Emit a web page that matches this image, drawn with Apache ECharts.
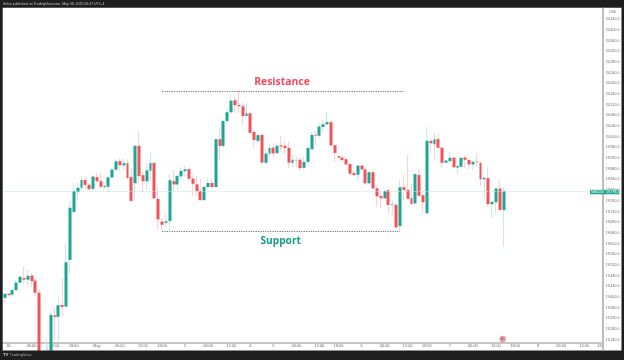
<!DOCTYPE html>
<html>
<head>
<meta charset="UTF-8">
<title>Support and Resistance</title>
<style>
body { margin: 0; padding: 0; background: #fff; }
#main { width: 624px; height: 360px; }
</style>
</head>
<body>
<div id="main"></div>
<script src="https://cdn.jsdelivr.net/npm/echarts@6/dist/echarts.min.js"></script>
<script>
var opens = [
19397,19412,19409,19426,19454,19471,19465,19480,19461,19416,
19089,19164,19183,19331,19326,19370,19364,19539,19719,19793,
19809,19838,19820,19805,19849,19834,19811,19813,19848,19877,
19909,19893,19901,19849,19826,19966,19856,19834,19873,19902,
19767,19682,19678,19685,19834,19822,19852,19871,19879,19843,
19822,19797,19763,19812,19827,19812,19991,19966,20059,20092,
20137,20119,20114,20078,20088,20018,19985,20007,19903,19937,
19959,19939,19968,19966,19958,19902,19913,19914,19884,19906,
19954,20008,20004,20037,20047,20055,19968,19927,19922,19916,
19898,19864,19858,19892,19878,19826,19867,19807,19778,19770,
19800,19745,19745,19666,19811,19801,19770,19751,19857,19781,
19714,19985,19972,19991,19959,19903,19909,19922,19884,19888,
19922,19913,19897,19907,19903,19841,19845,19748,19755,19806,
19726
];
var closes = [
19412,19407,19426,19454,19476,19465,19479,19460,19416,19164,
19160,19217,19333,19326,19369,19363,19530,19734,19797,19809,
19838,19820,19804,19851,19834,19813,19816,19848,19877,19908,
19894,19901,19845,19760,19966,19853,19834,19874,19902,19770,
19691,19671,19683,19837,19822,19853,19872,19878,19843,19824,
19797,19763,19812,19827,19812,19991,19966,20059,20092,20135,
20119,20115,20078,20088,20015,19988,20006,19904,19937,19958,
19938,19966,19964,19958,19903,19914,19912,19883,19906,19958,
20007,20004,20038,20047,20055,19968,19940,19922,19913,19897,
19862,19857,19892,19878,19826,19867,19807,19777,19770,19797,
19745,19747,19661,19811,19801,19768,19748,19860,19779,19755,
19985,19976,19991,19959,19903,19911,19921,19886,19891,19921,
19914,19897,19906,19905,19841,19846,19748,19756,19806,19726,
19796.3
];
var lows = [
19376,19404,19401,19424,19451,19445,19445,19439,19404,19145,
19075,19140,19164,19239,19233,19326,19364,19486,19718,19760,
19803,19805,19801,19801,19826,19808,19808,19792,19846,19873,
19873,19873,19845,19760,19760,19826,19794,19801,19838,19770,
19651,19651,19663,19651,19801,19803,19838,19851,19838,19778,
19782,19761,19761,19807,19807,19812,19916,19959,20056,20088,
20092,20090,20048,20069,20015,19957,19969,19894,19898,19923,
19922,19936,19944,19936,19882,19886,19886,19873,19876,19906,
19954,19969,19998,20019,20044,19968,19904,19920,19907,19894,
19857,19853,19838,19876,19820,19822,19803,19738,19732,19766,
19714,19707,19661,19645,19763,19766,19745,19748,19778,19714,
19714,19938,19913,19957,19884,19901,19909,19882,19861,19886,
19882,19878,19876,19888,19816,19770,19738,19697,19714,19723,
19588
];
var highs = [
19412,19416,19433,19464,19481,19512,19501,19489,19469,19426,
19170,19245,19345,19361,19399,19470,19601,19760,19827,19830,
19851,19851,19827,19857,19865,19865,19827,19851,19883,19916,
19920,19920,19916,19883,19966,20019,19869,19902,19940,19909,
19813,19695,19713,19861,19876,19861,19886,19894,19882,19857,
19851,19845,19820,19848,19845,19991,20036,20065,20107,20159,
20150,20173,20128,20123,20088,20025,20013,20007,19957,19976,
19976,19976,20003,19982,19982,19932,19923,19923,19925,19963,
20019,20023,20050,20063,20094,20055,19968,19928,19928,19923,
19898,19873,19894,19894,19882,19873,19878,19816,19794,19801,
19801,19761,19757,19841,19857,19932,19823,19860,19878,19781,
20038,19991,20013,20013,19959,19911,19942,19922,19894,19921,
19929,19918,19909,19938,19903,19846,19886,19756,19809,19834,
19811
];
var resistance = 20171;
var support = 19645;
var lastPrice = 19796.3;
var priceTicks = [
20440,20400,20360,20320,20280,20240,20200,20160,20120,20080,20040,20000,
19960,19920,19880,19840,19800,19760,19720,19680,19640,19600,19560,19520,
19480,19440,19400,19360,19320,19280,19240
];
var timeTickPos = [1,7,13,18,24,30,36,41,47,53,59,64,70,76,82,87,93,99,105,110,116,122,128,133,139,145,151,155];
var timeTickText = ['30','06:00','12:00','18:00','May','06:00','12:00','18:00','2','06:00','12:00','4','5','06:00','12:00','18:00','6','06:00','12:00','18:00','7','06:00','12:00','18:00','8','06:00','12:00','18'];

var slots = [];
for (var i = 0; i < 156; i++) slots.push(String(i));

var wickData = [], bodyData = [];
for (var j = 0; j < opens.length; j++) {
	wickData.push([opens[j], closes[j], lows[j], highs[j]]);
	var lo = Math.min(opens[j], closes[j]), hi = Math.max(opens[j], closes[j]);
	bodyData.push([opens[j], closes[j], lo, hi]);
}

var green = '#1fa593', red = '#f4525a', frame = '#1e1e1e';

function fmtPrice(v) {
	return Number(v).toFixed(1).replace(/\B(?=(\d{3})+(?!\d))/g, ',');
}
function band(x, y, w, h, c) {
	return { type: 'rect', silent: true, z: 100, shape: { x: x, y: y, width: w, height: h }, style: { fill: c } };
}
function txt(x, y, s, size, c, align, weight) {
	return { type: 'text', silent: true, z: 110, x: x, y: y, style: {
		text: s, fontSize: size, fill: c, align: align || 'left', verticalAlign: 'middle',
		fontFamily: 'Liberation Sans', fontWeight: weight || 'normal'
	} };
}

var chart = echarts.init(document.getElementById('main'));
chart.setOption({
	animation: false,
	backgroundColor: '#fff',
	grid: { left: 2.8, top: 7.7, width: 598.6, height: 335 },
	xAxis: {
		type: 'category',
		data: slots,
		boundaryGap: true,
		axisLine: { show: true, lineStyle: { color: '#b4b4b4', width: 1.5 } },
		axisTick: { show: false },
		splitLine: { show: false },
		axisLabel: {
			interval: 0,
			hideOverlap: false,
			margin: 1.5,
			fontSize: 3.8,
			color: '#666',
			fontFamily: 'Liberation Sans',
			formatter: function (v) {
				var k = timeTickPos.indexOf(Number(v));
				return k < 0 ? '' : timeTickText[k];
			}
		}
	},
	yAxis: {
		type: 'value',
		position: 'right',
		min: 19228.9,
		max: 20483.5,
		axisLine: { show: false },
		axisTick: { show: false },
		splitLine: { show: false },
		axisLabel: {
			customValues: priceTicks,
			margin: 4.3,
			fontSize: 3.5,
			color: '#666',
			align: 'left',
			fontFamily: 'Liberation Sans',
			formatter: fmtPrice
		}
	},
	series: [
		{
			name: 'wicks',
			type: 'candlestick',
			barWidth: 1.4,
			data: wickData,
			itemStyle: { color: '#cfe9e6', color0: '#f9d4d6', borderColor: '#cfe9e6', borderColor0: '#f9d4d6', borderWidth: 1.2 },
			markLine: {
				silent: true,
				symbol: 'none',
				animation: false,
				label: { show: false },
				data: [
					[{ coord: [41, resistance], lineStyle: { color: '#777', width: 1, type: [1.2, 1.2] } }, { coord: [104, resistance] }],
					[{ coord: [41, support], lineStyle: { color: '#777', width: 1, type: [1.2, 1.2] } }, { coord: [103, support] }],
					{ yAxis: lastPrice, lineStyle: { color: '#c4e6e2', width: 1, type: [1, 1] } }
				]
			}
		},
		{
			name: 'bodies',
			type: 'candlestick',
			barWidth: 3.4,
			data: bodyData,
			itemStyle: { color: green, color0: red, borderColor: green, borderColor0: red, borderWidth: 0 }
		}
	],
	graphic: [
		band(0, 0, 624, 7.7, frame),
		band(0, 350.5, 624, 9.5, frame),
		band(0, 0, 2.7, 360, frame),
		band(621.5, 0, 2.5, 360, frame),
		band(602, 7.7, 2, 342.8, '#bdbdbd'),
		txt(3, 3.9, 'Selva published on TradingView.com, May 08, 2025 20:47 UTC-4', 3.5, '#c8c8c8'),
		txt(3, 355, 'TV', 4.2, '#d0d0d0', 'left', 'bold'),
		txt(9.5, 355, 'TradingView', 4, '#a8a8a8'),
		txt(609, 12, 'USD', 3.5, '#666'),
		band(590, 189.8, 29.5, 4.5, '#23a593'),
		txt(591, 192.1, 'NAS100', 3.5, '#e8f6f4'),
		txt(606, 192.1, '19,796.3', 3.5, '#ffffff'),
		{ type: 'text', silent: true, z: 110, x: 282, y: 81.7, style: { text: 'Resistance', fontSize: 10.4, fontWeight: 700, fontFamily: 'Open Sans', fill: '#f24a60', align: 'center', verticalAlign: 'middle' } },
		{ type: 'text', silent: true, z: 110, x: 280.7, y: 241, style: { text: 'Support', fontSize: 10.2, fontWeight: 700, fontFamily: 'Open Sans', fill: '#169c87', align: 'center', verticalAlign: 'middle' } },
		{ type: 'circle', silent: true, z: 105, shape: { cx: 502.7, cy: 339, r: 3.2 }, style: { fill: '#ee9aa2' } },
		{ type: 'circle', silent: true, z: 106, shape: { cx: 502.2, cy: 338.6, r: 1.2 }, style: { fill: '#4a7fc4' } }
	]
});
</script>
</body>
</html>
